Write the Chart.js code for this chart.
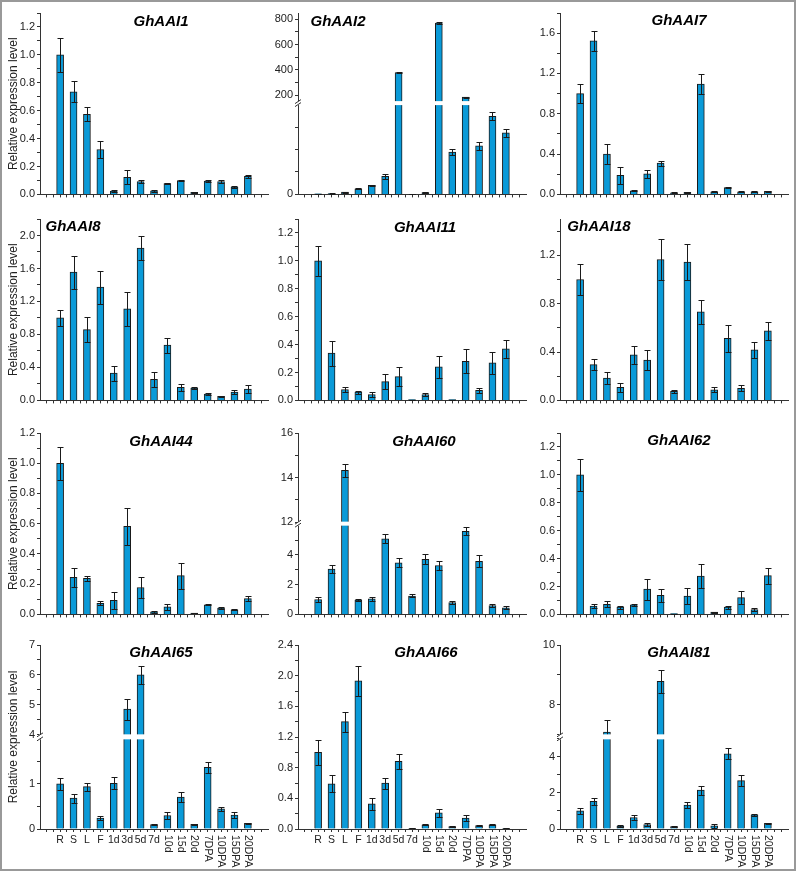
<!DOCTYPE html>
<html>
<head>
<meta charset="utf-8">
<script src="https://cdn.jsdelivr.net/npm/chart.js@4.4.0/dist/chart.umd.min.js"></script>
<style>
  body { margin: 0; background: #fff; }
  #fig { position: relative; width: 798px; height: 874px; overflow: hidden; }
  #frame { position: absolute; left: 0; top: 0; width: 792px; height: 867px; border: 2px solid #999; }
  canvas { position: absolute; }
</style>
</head>
<body>
<div id="fig"><div id="frame"></div></div>
<script>
const categories = ['R', 'S', 'L', 'F', '1d', '3d', '5d', '7d', '10d', '15d', '20d', '7DPA', '10DPA', '15DPA', '20DPA'];

const ghaai1 = [1.0, 0.735, 0.573, 0.322, 0.023, 0.122, 0.092, 0.026, 0.078, 0.099, 0.014, 0.096, 0.092, 0.052, 0.129];
const ghaai1Err = [0.12, 0.075, 0.05, 0.06, 0.005, 0.05, 0.012, 0.008, 0.005, 0.006, 0.002, 0.005, 0.008, 0.006, 0.012];
const ghaai2 = [0.15, 0.2, 0.5, 1.25, 2.0, 4.0, 380, 0.05, 0.4, 770, 9.4, 185, 10.8, 17.4, 13.7];
const ghaai2Err = [0.05, 0.05, 0.1, 0.15, 0.2, 0.6, 4, 0.02, 0.1, 5, 0.65, 4, 0.8, 0.9, 0.95];
const ghaai7 = [1.0, 1.525, 0.40, 0.19, 0.036, 0.205, 0.31, 0.016, 0.02, 1.095, 0.026, 0.068, 0.026, 0.026, 0.03];
const ghaai7Err = [0.095, 0.1, 0.1, 0.085, 0.005, 0.04, 0.025, 0.003, 0.003, 0.1, 0.004, 0.004, 0.006, 0.005, 0.005];
const ghaai8 = [1.0, 1.557, 0.858, 1.373, 0.331, 1.11, 1.848, 0.255, 0.67, 0.16, 0.148, 0.076, 0.048, 0.1, 0.136];
const ghaai8Err = [0.1, 0.2, 0.15, 0.2, 0.09, 0.21, 0.14, 0.09, 0.09, 0.04, 0.01, 0.01, 0.008, 0.025, 0.045];
const ghaai11 = [1.0, 0.339, 0.078, 0.059, 0.042, 0.134, 0.17, 0.005, 0.042, 0.24, 0.005, 0.28, 0.073, 0.27, 0.369];
const ghaai11Err = [0.11, 0.09, 0.02, 0.01, 0.015, 0.055, 0.07, 0.001, 0.01, 0.08, 0.001, 0.085, 0.017, 0.08, 0.065];
const ghaai18 = [1.0, 0.296, 0.185, 0.109, 0.377, 0.334, 1.165, 0.076, 1.143, 0.733, 0.087, 0.513, 0.1, 0.418, 0.576];
const ghaai18Err = [0.13, 0.044, 0.05, 0.038, 0.076, 0.082, 0.17, 0.012, 0.147, 0.1, 0.02, 0.11, 0.025, 0.065, 0.073];
const ghaai44 = [1.0, 0.245, 0.239, 0.074, 0.093, 0.582, 0.178, 0.017, 0.05, 0.256, 0.009, 0.063, 0.041, 0.03, 0.104];
const ghaai44Err = [0.11, 0.065, 0.018, 0.012, 0.055, 0.123, 0.067, 0.005, 0.022, 0.085, 0.002, 0.003, 0.008, 0.003, 0.018];
const ghaai60 = [1.0, 3.05, 14.32, 0.97, 1.04, 5.08, 3.47, 1.24, 3.71, 3.29, 0.8, 5.59, 3.56, 0.6, 0.44];
const ghaai60Err = [0.15, 0.3, 0.3, 0.07, 0.15, 0.3, 0.3, 0.1, 0.33, 0.32, 0.08, 0.27, 0.4, 0.08, 0.1];
const ghaai62 = [1.0, 0.059, 0.073, 0.052, 0.068, 0.181, 0.136, 0.005, 0.132, 0.275, 0.016, 0.052, 0.12, 0.035, 0.278];
const ghaai62Err = [0.115, 0.013, 0.02, 0.01, 0.008, 0.075, 0.045, 0.001, 0.054, 0.087, 0.003, 0.01, 0.045, 0.01, 0.058];
const ghaai65 = [1.0, 0.684, 0.94, 0.243, 1.015, 4.86, 6.0, 0.096, 0.3, 0.706, 0.103, 1.368, 0.449, 0.309, 0.125];
const ghaai65Err = [0.125, 0.1, 0.09, 0.05, 0.13, 0.35, 0.29, 0.01, 0.075, 0.11, 0.015, 0.12, 0.05, 0.07, 0.01];
const ghaai66 = [1.0, 0.589, 1.4, 1.932, 0.329, 0.598, 0.884, 0.009, 0.056, 0.212, 0.03, 0.143, 0.043, 0.056, 0.009];
const ghaai66Err = [0.16, 0.11, 0.13, 0.2, 0.08, 0.07, 0.095, 0.002, 0.008, 0.055, 0.005, 0.04, 0.006, 0.006, 0.002];
const ghaai81 = [1.01, 1.54, 7.09, 0.165, 0.64, 0.24, 8.79, 0.13, 1.32, 2.16, 0.18, 4.17, 2.68, 0.79, 0.31];
const ghaai81Err = [0.16, 0.2, 0.4, 0.04, 0.12, 0.08, 0.38, 0.02, 0.15, 0.25, 0.1, 0.3, 0.3, 0.05, 0.05];

// labelled y ticks
const ticks12 = [0, 0.2, 0.4, 0.6, 0.8, 1.0, 1.2];
const ticks16 = [0, 0.4, 0.8, 1.2, 1.6];
const ticks20 = [0, 0.4, 0.8, 1.2, 1.6, 2.0];
const ticks24 = [0, 0.4, 0.8, 1.2, 1.6, 2.0, 2.4];
const ticks2 = [0, 200, 400, 600, 800];
const ticks2Minor = [5, 10, 15, 300, 500, 700];
const ticks60 = [0, 2, 4, 12, 14, 16];
const ticks60Minor = [1, 3, 5, 13, 15];
const ticks65 = [0, 1, 4, 5, 6, 7];
const ticks65Minor = [0.5, 1.5, 4.5, 5.5, 6.5];
const ticks81 = [0, 2, 4, 8, 10];
const ticks81Minor = [1, 3, 5, 7, 9];

const FONT = '"Liberation Sans", Arial, sans-serif';
const colX = [40, 298, 560];   // y axis position per column
const rowY = [13, 219, 433, 645]; // top of plot area per row
const plotW = 228, plotH = 184;

const panels = [
  { gene: 'GhAAI1', vals: ghaai1, err: ghaai1Err, max: 1.3, major: ticks12, step: 0.1, dec: 1, col: 0, row: 0, tx: 121, ty: 9 },
  { gene: 'GhAAI2', vals: ghaai2, err: ghaai2Err, max: 850, major: ticks2, minor: ticks2Minor, dec: 0, col: 1, row: 0, tx: 40, ty: 9,
    brk: { low: 20, high: 150, frac: 0.495, gap: 3 } },
  { gene: 'GhAAI7', vals: ghaai7, err: ghaai7Err, max: 1.8, major: ticks16, step: 0.2, dec: 1, col: 2, row: 0, tx: 119, ty: 8 },
  { gene: 'GhAAI8', vals: ghaai8, err: ghaai8Err, max: 2.2, major: ticks20, step: 0.2, dec: 1, col: 0, row: 1, tx: 33, ty: 8 },
  { gene: 'GhAAI11', vals: ghaai11, err: ghaai11Err, max: 1.3, major: ticks12, step: 0.1, dec: 1, col: 1, row: 1, tx: 127, ty: 9 },
  { gene: 'GhAAI18', vals: ghaai18, err: ghaai18Err, max: 1.5, major: ticks16.slice(0, 4), step: 0.2, dec: 1, col: 2, row: 1, tx: 39, ty: 8 },
  { gene: 'GhAAI44', vals: ghaai44, err: ghaai44Err, max: 1.2, major: ticks12, step: 0.1, dec: 1, col: 0, row: 2, tx: 121, ty: 9 },
  { gene: 'GhAAI60', vals: ghaai60, err: ghaai60Err, max: 16, major: ticks60, minor: ticks60Minor, dec: 0, col: 1, row: 2, tx: 126, ty: 9,
    brk: { low: 6, high: 12, frac: 0.492, gap: 3 } },
  { gene: 'GhAAI62', vals: ghaai62, err: ghaai62Err, max: 1.3, major: ticks12, step: 0.1, dec: 1, col: 2, row: 2, tx: 119, ty: 8 },
  { gene: 'GhAAI65', vals: ghaai65, err: ghaai65Err, max: 7, major: ticks65, minor: ticks65Minor, dec: 0, col: 0, row: 3, tx: 121, ty: 8,
    brk: { low: 2, high: 4, frac: 0.49, gap: 4 } },
  { gene: 'GhAAI66', vals: ghaai66, err: ghaai66Err, max: 2.4, major: ticks24, step: 0.2, dec: 1, col: 1, row: 3, tx: 128, ty: 8 },
  { gene: 'GhAAI81', vals: ghaai81, err: ghaai81Err, max: 10, major: ticks81, minor: ticks81Minor, dec: 0, col: 2, row: 3, tx: 119, ty: 8,
    brk: { low: 5, high: 7, frac: 0.49, gap: 4 } }
];

// linear scale with a gap between brk.low and brk.high
class BrokenScale extends Chart.LinearScale {
  getPixelForValue(v) {
    const b = this.brk;
    if (!b) return super.getPixelForValue(v);
    const h = this.bottom - this.top;
    const lowH = h * b.frac;
    const lowTop = this.bottom - lowH;
    const highBot = lowTop - b.gap;
    if (v <= b.low) return this.bottom - (v - this.min) / (b.low - this.min) * lowH;
    if (v < b.high) return lowTop - (v - b.low) / (b.high - b.low) * b.gap;
    return highBot - (v - b.high) / (this.max - b.high) * (highBot - this.top);
  }
}
BrokenScale.id = 'broken';
BrokenScale.defaults = Chart.LinearScale.defaults;
Chart.register(BrokenScale);

const errorBars = {
  id: 'errorBars',
  afterDatasetsDraw(chart) {
    const { ctx } = chart;
    const ds = chart.data.datasets[0];
    const ys = chart.scales.y;
    ctx.save();
    ctx.strokeStyle = '#1a1a1a';
    ctx.lineWidth = 1;
    chart.getDatasetMeta(0).data.forEach((bar, i) => {
      const v = ds.data[i].y, e = ds.errors[i];
      const x = Math.round(bar.x) + 0.5;
      const y1 = Math.round(ys.getPixelForValue(v + e)) + 0.5;
      const y2 = Math.round(ys.getPixelForValue(Math.max(v - e, 0))) + 0.5;
      ctx.beginPath();
      ctx.moveTo(x, y1); ctx.lineTo(x, y2);
      ctx.moveTo(x - 3, y1); ctx.lineTo(x + 3, y1);
      ctx.moveTo(x - 3, y2); ctx.lineTo(x + 3, y2);
      ctx.stroke();
    });
    ctx.restore();
  }
};

const axisBreak = {
  id: 'axisBreak',
  afterDatasetsDraw(chart) {
    const ys = chart.scales.y;
    const b = ys.brk;
    if (!b) return;
    const { ctx, chartArea } = chart;
    const yTop = ys.getPixelForValue(b.high), yBot = ys.getPixelForValue(b.low);
    ctx.save();
    ctx.fillStyle = '#fff';
    ctx.fillRect(chartArea.left - 1, yTop - 0.5, chartArea.right - chartArea.left + 1, yBot - yTop + 1);
    ctx.strokeStyle = '#333';
    ctx.lineWidth = 1;
    [yTop, yBot].forEach(y => {
      ctx.beginPath();
      ctx.moveTo(chartArea.left - 3, y + 2);
      ctx.lineTo(chartArea.left + 3, y - 2);
      ctx.stroke();
    });
    ctx.restore();
  }
};

const geneTitle = {
  id: 'geneTitle',
  afterDraw(chart, args, o) {
    const { ctx, chartArea } = chart;
    ctx.save();
    ctx.font = 'italic bold 15px ' + FONT;
    ctx.fillStyle = '#000';
    ctx.textAlign = 'center';
    ctx.textBaseline = 'middle';
    ctx.fillText(o.text, chartArea.left + o.dx, chartArea.top + o.dy);
    ctx.restore();
  }
};

// category names under the bottom row, later ones turned on their side
const catLabels = {
  id: 'catLabels',
  afterDraw(chart, args, o) {
    if (!o.show) return;
    const { ctx } = chart;
    const xs = chart.scales.x;
    ctx.save();
    ctx.fillStyle = '#222';
    ctx.font = '10.5px ' + FONT;
    categories.forEach((c, i) => {
      const x = xs.getPixelForValue(i);
      const y = xs.top + 6;
      if (i < 8) {
        ctx.textAlign = 'center';
        ctx.textBaseline = 'top';
        ctx.fillText(c, x, y);
      } else {
        ctx.save();
        ctx.translate(x, y);
        ctx.rotate(Math.PI / 2);
        ctx.textAlign = 'left';
        ctx.textBaseline = 'middle';
        ctx.fillText(c, 0, 0);
        ctx.restore();
      }
    });
    ctx.restore();
  }
};

const xTickVals = [];
for (let k = -2; k <= 30; k++) xTickVals.push(k / 2);

function yTickVals(p) {
  if (p.minor) return [...p.major, ...p.minor].sort((a, b) => a - b);
  const out = [];
  for (let k = 0; k * p.step <= p.max + 1e-9; k++) out.push(+(k * p.step).toFixed(3));
  return out;
}

const fig = document.getElementById('fig');

panels.forEach(p => {
  const xh = p.row === 3 ? 44 : 6;
  const cv = document.createElement('canvas');
  cv.width = 40 + plotW + 6;
  cv.height = 12 + plotH + xh;
  cv.style.left = (colX[p.col] - 40) + 'px';
  cv.style.top = (rowY[p.row] - 12) + 'px';
  fig.appendChild(cv);

  const yVals = yTickVals(p);

  new Chart(cv, {
    type: 'bar',
    data: {
      datasets: [{
        data: p.vals.map((v, i) => ({ x: i, y: v })),
        errors: p.err,
        backgroundColor: '#0a9ad8',
        borderColor: '#1a1a1a',
        borderWidth: 1,
        barThickness: 7
      }]
    },
    options: {
      responsive: false,
      animation: false,
      events: [],
      layout: { padding: { top: 12, right: 6, left: 0, bottom: 0 } },
      plugins: {
        legend: { display: false },
        tooltip: { enabled: false },
        geneTitle: { text: p.gene, dx: p.tx, dy: p.ty },
        catLabels: { show: p.row === 3 }
      },
      scales: {
        x: {
          type: 'linear',
          min: -1.5,
          max: 15.5,
          offset: false,
          bounds: 'data',
          afterBuildTicks: s => { s.ticks = xTickVals.map(v => ({ value: v })); },
          afterFit: s => { s.height = xh; },
          ticks: { display: false, autoSkip: false },
          grid: { offset: false, drawOnChartArea: false, tickLength: 3, tickColor: '#333' },
          border: { color: '#333', width: 1 }
        },
        y: {
          type: p.brk ? 'broken' : 'linear',
          min: 0,
          max: p.max,
          bounds: 'data',
          afterBuildTicks: s => { s.brk = p.brk; s.ticks = yVals.map(v => ({ value: v })); },
          afterFit: s => { s.width = 40; },
          ticks: {
            autoSkip: false,
            padding: 2,
            color: '#222',
            font: { size: 11, family: FONT },
            callback: v => p.major.includes(v) ? v.toFixed(p.dec) : ''
          },
          grid: { drawOnChartArea: false, tickLength: 3, tickColor: '#333' },
          border: { color: '#333', width: 1 },
          title: {
            display: p.col === 0,
            text: 'Relative expression level',
            color: '#222',
            font: { size: 12, family: FONT },
            padding: { top: 6, bottom: 0 }
          }
        }
      }
    },
    plugins: [errorBars, axisBreak, geneTitle, catLabels]
  });
});
</script>
</body>
</html>
